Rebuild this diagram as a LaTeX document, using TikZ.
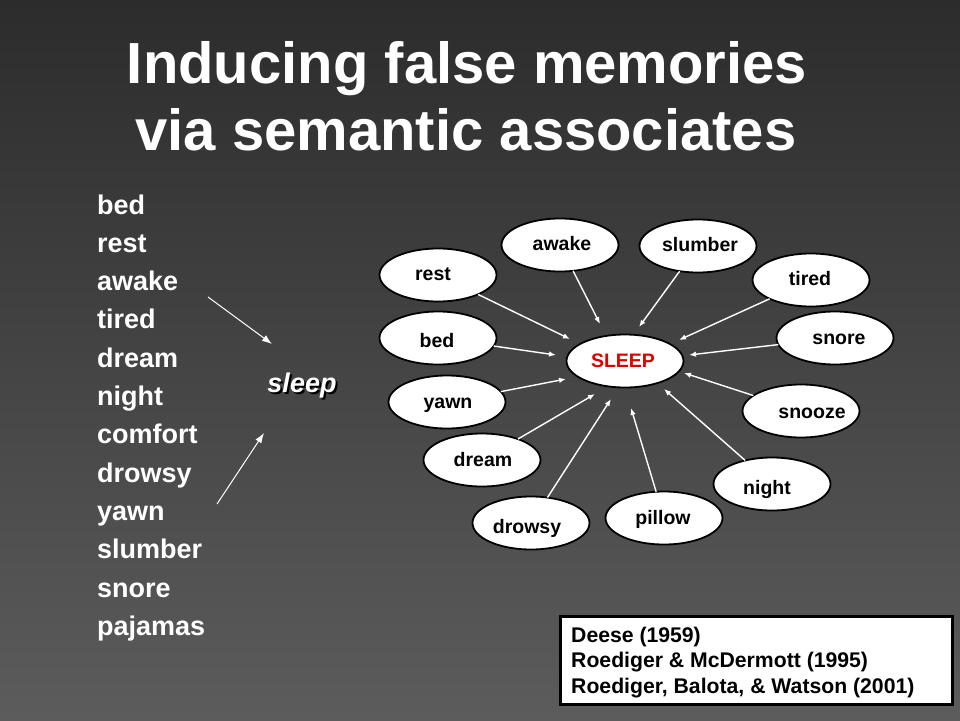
\documentclass[tikz,border=0pt]{standalone}
\usepackage{fontspec}
\setmainfont{Liberation Sans}
\usetikzlibrary{shapes.geometric,arrows.meta}
\definecolor{bgtop}{HTML}{2C2C2C}
\definecolor{bgbot}{HTML}{5C5C5C}
\definecolor{sleepred}{HTML}{E00000}
\tikzset{
  ell/.style={ellipse, draw=black, line width=1.8pt, fill=white, minimum width=117pt, minimum height=53pt, inner sep=0pt},
  lbl/.style={font=\bfseries\fontsize{19.5}{22}\selectfont, text=black, inner sep=0pt, text height=14pt, text depth=0pt},
  assoc/.style={draw=white, line width=1.4pt, -{Latex[length=7pt,width=5.5pt]}, shorten <=-1pt},
  bigarrow/.style={draw=white, line width=1pt, -{Latex[length=10pt,width=7pt]}},
  word/.style={font=\bfseries\fontsize{27}{30}\selectfont, text=white, anchor=base west, inner sep=0pt},
  ttl/.style={font=\bfseries\fontsize{58}{64}\selectfont, text=white, anchor=base, inner sep=0pt},
  cite/.style={font=\bfseries\fontsize{21.2}{24}\selectfont, text=black, anchor=base west, inner sep=0pt}
}
\begin{document}
\begin{tikzpicture}[x=1pt,y=-1pt]
\useasboundingbox (0,0) rectangle (960,720);
\shade[top color=bgtop, bottom color=bgbot] (0,0) rectangle (960,720);

% title
\node[ttl] (t1) at (467,83) {Inducing false memories};
\node[ttl] (t2) at (466,150) {via semantic associates};

% word list
\foreach \w [count=\i from 0] in {bed,rest,awake,tired,dream,night,comfort,drowsy,yawn,slumber,snore,pajamas}
  \node[word] (w\i) at (97,{214+38.3*\i}) {\w};

% sleep (with drop shadow, one node)
\node[font=\bfseries\itshape\fontsize{27}{30}\selectfont, text=white, inner sep=0pt] (sleepw) at (302,387)
  {\rlap{\hspace{2pt}\raisebox{-2pt}{\color{black}sleep}}sleep};

\coordinate (la1) at (208,297);
\coordinate (la2) at (272,344);
\coordinate (lb1) at (217,504);
\coordinate (lb2) at (264,433);
\draw[bigarrow] (la1) -- (la2);
\draw[bigarrow] (lb1) -- (lb2);

% network
\node[ell] (SLEEP) at (625,361) {};
\node[lbl, text=sleepred] (SLEEPt) at (623,360) {SLEEP};

\foreach \n/\ex/\ey/\tx/\ty/\px/\py in {
  rest/438/275/433/273/570/339,
  awake/560/245/562/243/600/324,
  slumber/698/246/700/244/639/327,
  tired/811/280/810/278/679/340,
  snore/835/338/839/337/689/355,
  snooze/801/411/812/411/684/373,
  night/772/484/767/487/664/389,
  pillow/664/518/663/517/631/408,
  drowsy/531/523/527/526/611/399,
  dream/482/460/483/459/595/394,
  yawn/447/402/448/401/566/379,
  bed/438/338/437/340/556/355}
{
  \node[ell] (\n) at (\ex,\ey) {};
  \node[lbl] (\n-t) at (\tx,\ty) {\n};
  \coordinate (\n-tip) at (\px,\py);
  \draw[assoc] (\n) -- (\n-tip);
}

% citation box
\node[draw=black, line width=3pt, fill=white, minimum width=392pt, minimum height=88pt, inner sep=0pt] (box) at (756,660) {};
\node[cite] (c1) at (571,642) {Deese (1959)};
\node[cite] (c2) at (571,667.5) {Roediger \& McDermott (1995)};
\node[cite] (c3) at (571,693) {Roediger, Balota, \& Watson (2001)};
\end{tikzpicture}
\end{document}
